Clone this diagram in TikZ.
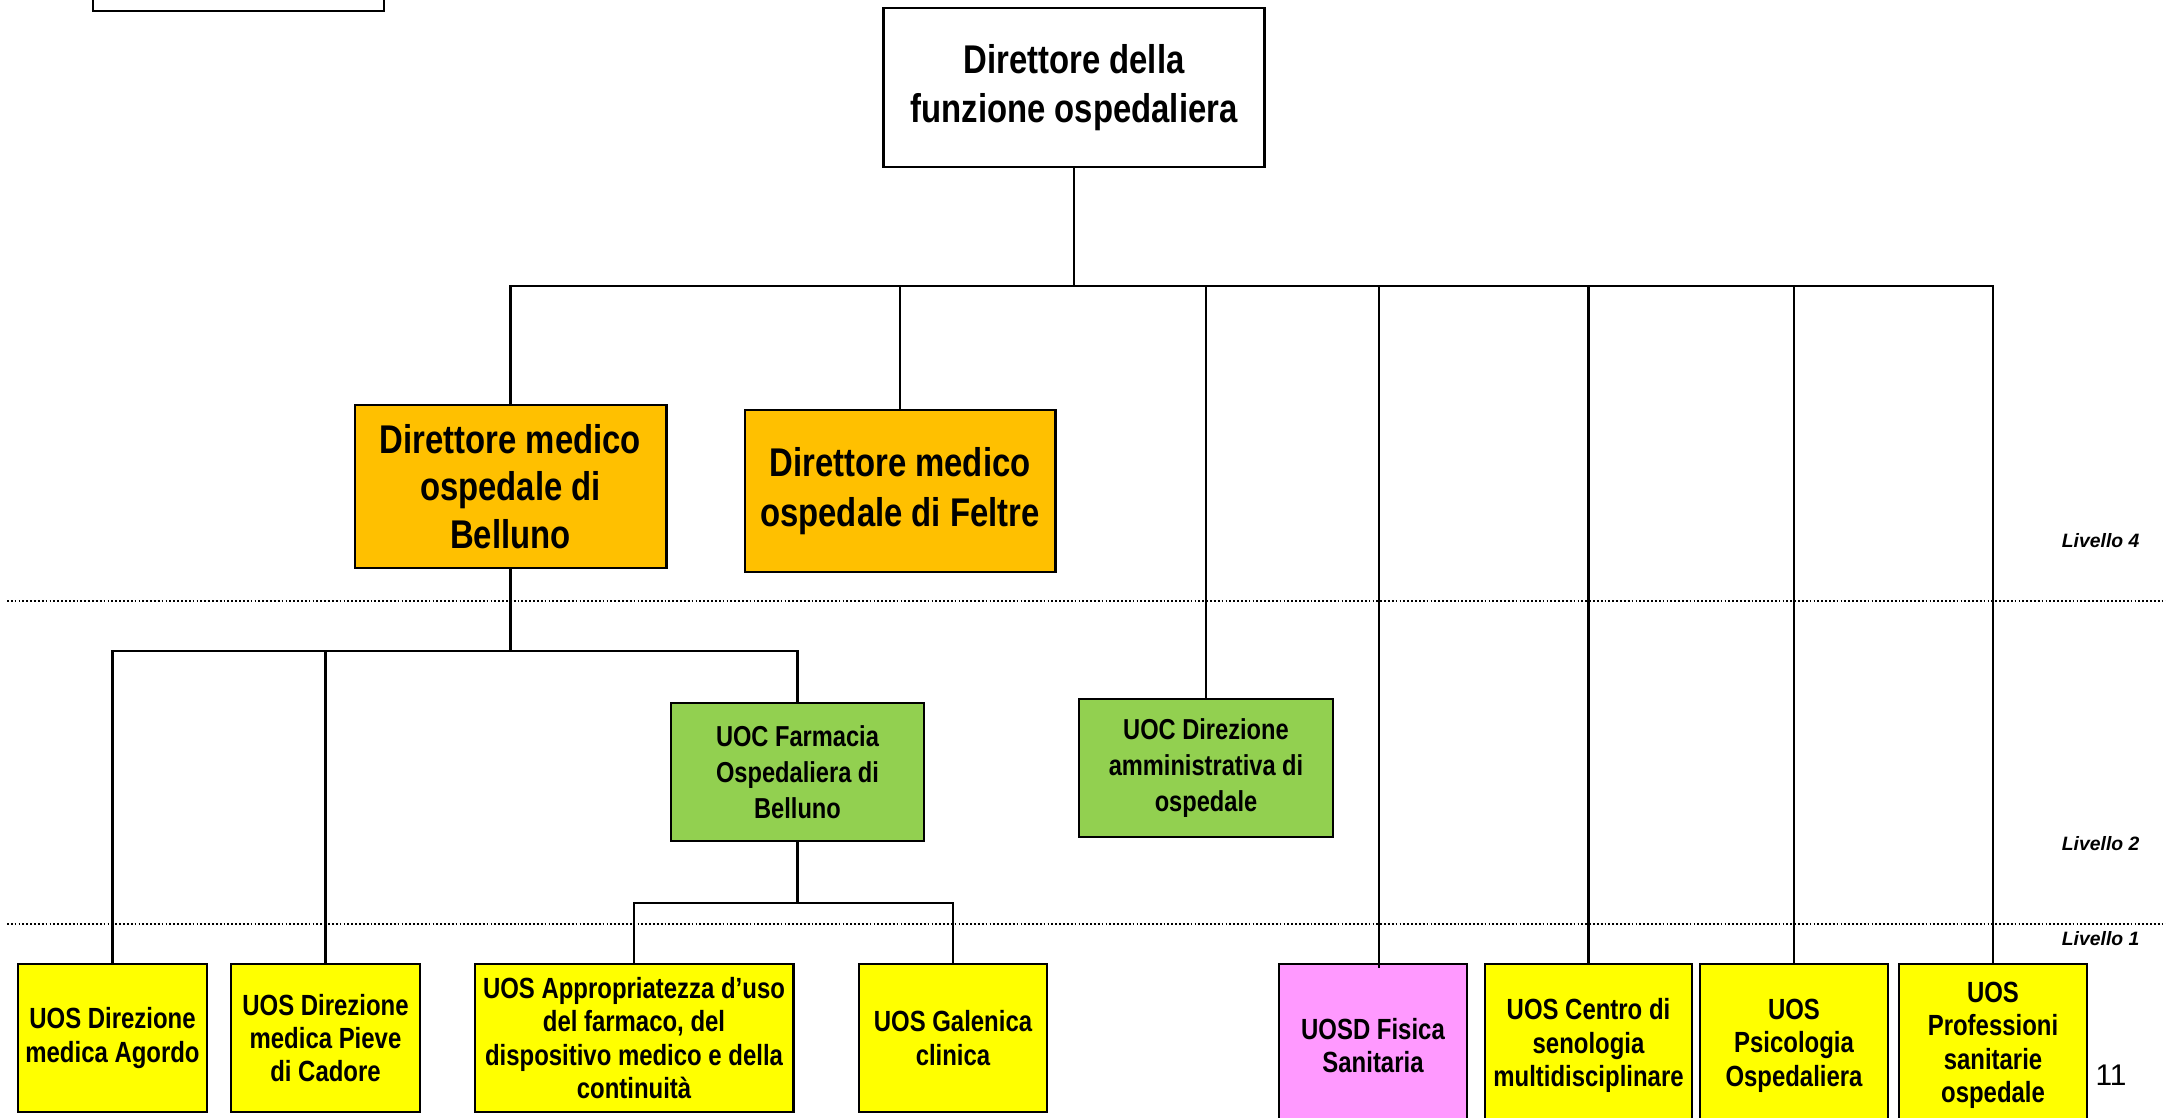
\documentclass[tikz,border=0pt]{standalone}
\usepackage{fontspec}
\setmainfont{Liberation Sans}
\newfontfamily\nbf[FakeStretch=0.82]{Liberation Sans}
\definecolor{orangeb}{HTML}{FFC000}
\definecolor{greenb}{HTML}{92D050}
\definecolor{yellowb}{HTML}{FFFF00}
\definecolor{pinkb}{HTML}{FF99FF}
\begin{document}
\begin{tikzpicture}[x=0.01cm,y=-0.01cm,
  box/.style={draw, line width=0.8pt, align=center, inner sep=0pt},
  bigtxt/.style={font=\nbf\bfseries\fontsize{11.4pt}{14pt}\selectfont},
  midtxt/.style={font=\nbf\bfseries\fontsize{8.2pt}{10.2pt}\selectfont},
  smtxt/.style={font=\nbf\bfseries\fontsize{8.3pt}{9.5pt}\selectfont},
  conn/.style={line width=0.6pt},
  lvl/.style={font=\bfseries\itshape\fontsize{5.5pt}{6pt}\selectfont, anchor=east, inner sep=0pt},
  sep/.style={line width=0.5pt, dash pattern=on 0.5pt off 0.6pt}
]
\useasboundingbox (0,0) rectangle (2166,1118);
\clip (0,0) rectangle (2166,1118);
% partial box top-left
\draw[line width=0.8pt] (93,-20) rectangle (384,11);
% level separators
\draw[sep] (7,601) -- (2166,601);
\draw[sep] (7,924) -- (2166,924);
% nodes
\node[box, bigtxt, minimum width=3.8cm, minimum height=1.59cm] (top) at (1074,87.5) {Direttore della\\funzione ospedaliera};
\node[box, fill=orangeb, minimum width=3.11cm, minimum height=1.63cm, font=\nbf\bfseries\fontsize{11.4pt}{13.6pt}\selectfont] (bel) at (510.5,486.5) {Direttore medico\\ospedale di\\Belluno};
\node[box, fill=orangeb, minimum width=3.1cm, minimum height=1.62cm, font=\nbf\bfseries\fontsize{11.4pt}{14.2pt}\selectfont] (fel) at (900,491) {Direttore medico\\ospedale di Feltre};
\node[box, midtxt, fill=greenb, minimum width=2.53cm, minimum height=1.38cm] (far) at (797.5,772) {UOC Farmacia\\Ospedaliera di\\Belluno};
\node[box, midtxt, fill=greenb, minimum width=2.54cm, minimum height=1.38cm] (amm) at (1206,768) {UOC Direzione\\amministrativa di\\ospedale};
\node[box, smtxt, fill=yellowb, minimum width=1.89cm, minimum height=1.48cm] (ago) at (112.5,1038) {UOS Direzione\\medica Agordo};
\node[box, smtxt, fill=yellowb, minimum width=1.89cm, minimum height=1.48cm] (pie) at (325.5,1038) {UOS Direzione\\medica Pieve\\di Cadore};
\node[box, smtxt, fill=yellowb, minimum width=3.18cm, minimum height=1.48cm] (app) at (634,1038) {UOS Appropriatezza d’uso\\del farmaco, del\\dispositivo medico e della\\continuità};
\node[box, smtxt, fill=yellowb, minimum width=1.88cm, minimum height=1.48cm] (gal) at (953,1038) {UOS Galenica\\clinica};
\node[box, smtxt, fill=pinkb, minimum width=1.88cm, minimum height=1.63cm] (fis) at (1373,1045.5) {UOSD Fisica\\Sanitaria};
\node[box, smtxt, fill=yellowb, minimum width=2.07cm, minimum height=1.63cm] (sen) at (1588.5,1045.5) {UOS Centro di\\senologia\\multidisciplinare};
\node[box, smtxt, fill=yellowb, minimum width=1.88cm, minimum height=1.63cm] (psi) at (1794,1045.5) {UOS\\Psicologia\\Ospedaliera};
\node[box, smtxt, fill=yellowb, minimum width=1.88cm, minimum height=1.63cm] (pro) at (1993,1045.5) {UOS\\Professioni\\sanitarie\\ospedale};
% connectors
\coordinate (b0) at (1074,286);
\coordinate (b1) at (510.5,651);
\coordinate (b2) at (797.5,903);
\draw[conn] (top.south) -- (b0);
\draw[conn] (bel.north) |- (b0);
\draw[conn] (b0) -| (pro.north);
\draw[conn] (fel.north) -- (fel.north |- b0);
\draw[conn] (amm.north) -- (amm.north |- b0);
\draw[conn] (1379,286) -- (1379,968);
\draw[conn] (sen.north) -- (sen.north |- b0);
\draw[conn] (psi.north) -- (psi.north |- b0);
\draw[conn] (bel.south) -- (b1);
\draw[conn] (ago.north) |- (b1);
\draw[conn] (b1) -| (far.north);
\draw[conn] (pie.north) -- (pie.north |- b1);
\draw[conn] (far.south) -- (b2);
\draw[conn] (app.north) |- (b2);
\draw[conn] (b2) -| (gal.north);
% labels
\node[lvl] (l4) at (2140,541) {Livello 4};
\node[lvl] (l2) at (2140,844) {Livello 2};
\node[lvl] (l1) at (2140,939) {Livello 1};
\node[font=\fontsize{8.5pt}{10pt}\selectfont] (pg) at (2111,1075) {11};
\end{tikzpicture}
\end{document}
